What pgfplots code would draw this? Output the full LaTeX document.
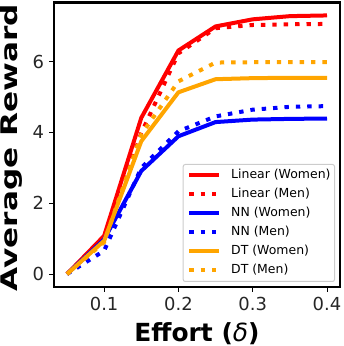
\documentclass[border=0pt]{standalone}
\usepackage{fontspec}
\setmainfont{DejaVu Sans}
\newfontfamily\ylabfont[FakeStretch=1.36]{DejaVu Sans}
\usepackage{pgfplots}
\pgfplotsset{compat=1.18}
\usepackage{pgfplotstable}
\definecolor{mplred}{RGB}{255,0,0}
\definecolor{mplblue}{RGB}{0,0,255}
\definecolor{mplorange}{RGB}{255,165,0}
\pgfplotstableread{
x LW LM NW NM DW DM
0.05 0 0 0 0 0 0
0.10 1.08 0.95 0.98 0.66 0.94 0.90
0.15 4.41 3.98 2.91 3.00 3.75 3.94
0.20 6.31 6.23 3.89 4.03 5.13 5.44
0.25 6.99 6.94 4.29 4.45 5.50 5.97
0.30 7.19 7.03 4.36 4.64 5.53 5.98
0.35 7.28 7.05 4.38 4.72 5.54 5.98
0.40 7.30 7.06 4.39 4.74 5.54 5.98
}\data
\begin{document}
\begin{tikzpicture}
\path[use as bounding box] (-54bp,-59bp) rectangle (290bp,287bp);
\begin{axis}[
  at={(0,0)}, anchor=south west,
  scale only axis, width=286bp, height=284.5bp,
  xmin=0.0325, xmax=0.4175, ymin=-0.365, ymax=7.665,
  xtick={0.1,0.2,0.3,0.4}, ytick={0,2,4,6},
  xticklabels={0.1,0.2,0.3,0.4}, yticklabels={0,2,4,6},
  xtick pos=bottom, ytick pos=left,
  axis line style={line width=2.5bp, black},
  tick align=outside, major tick length=4.5bp,
  tick style={line width=1bp, black},
  ticklabel style={font=\fontsize{18}{20}\selectfont, text=black!85},
  xticklabel style={anchor=north, yshift=-2bp},
  yticklabel style={anchor=east, xshift=-2bp},
  xlabel={Effort (\mdseries\itshape δ\upshape\bfseries)},
  xlabel style={at={(axis description cs:0.5,0)}, anchor=base, yshift=-54bp,
    font=\fontsize{25}{30}\selectfont\bfseries},
  ylabel={Average Reward},
  ylabel style={at={(axis description cs:-0.1259,0.49)}, anchor=base, rotate=0,
    font=\fontsize{23}{28}\ylabfont\bfseries},
  legend cell align=left,
  legend image code/.code={\draw[#1] (0bp,0bp) -- (30bp,0bp);},
  legend style={at={(axis description cs:0.9825,0.0176)}, anchor=south east,
    draw=black!20, line width=1bp, rounded corners=2bp, fill=white,
    inner xsep=4bp, inner ysep=1.5bp,
    font=\fontsize{12.5}{14}\selectfont,
    nodes={inner xsep=0pt, inner ysep=3.25bp, text height=9.5bp, text depth=3bp},
    /tikz/every odd column/.append style={column sep=10bp}},
  every axis plot/.append style={line width=4bp},
]
\addplot[mplred, line join=round] table[x=x,y=LW] {\data};
\addlegendentry{Linear (Women)}
\addplot[mplred, dash pattern=on 4.4bp off 7bp] table[x=x,y=LM] {\data};
\addlegendentry{Linear (Men)}
\addplot[mplblue, line join=round] table[x=x,y=NW] {\data};
\addlegendentry{NN (Women)}
\addplot[mplblue, dash pattern=on 4.4bp off 7bp] table[x=x,y=NM] {\data};
\addlegendentry{NN (Men)}
\addplot[mplorange, line join=round] table[x=x,y=DW] {\data};
\addlegendentry{DT (Women)}
\addplot[mplorange, dash pattern=on 4.4bp off 7bp] table[x=x,y=DM] {\data};
\addlegendentry{DT (Men)}
\end{axis}
\end{tikzpicture}
\end{document}
